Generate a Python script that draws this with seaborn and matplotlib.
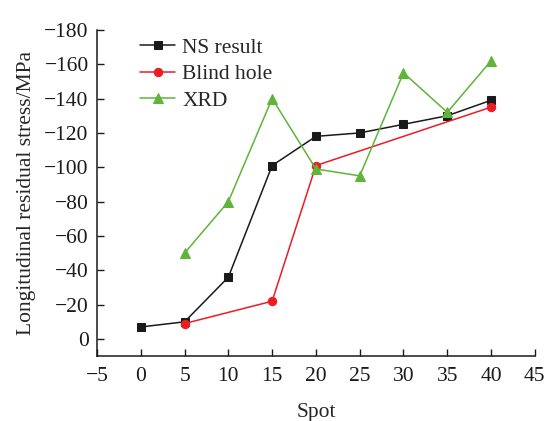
import matplotlib
matplotlib.use("Agg")
import matplotlib.pyplot as plt
import seaborn as sns
import pandas as pd

ns_x = [0, 5, 10, 15, 20, 25, 30, 35, 40]
ns_y = [-7, -10, -36, -101, -118, -120, -125, -130, -139]
bh_x = [5, 15, 20, 40]
bh_y = [-9, -22, -101, -135]
xrd_x = [5, 10, 15, 20, 25, 30, 35, 40]
xrd_y = [-50, -80, -140, -99, -95, -155, -132, -162]

sns.set_style("white")
plt.rcParams['font.family'] = ['Liberation Serif', 'DejaVu Serif']
plt.rcParams['axes.unicode_minus'] = True

fig = plt.figure(figsize=(5.48, 4.21), dpi=100)
ax = fig.add_axes([0.177, 0.154, 0.799, 0.775])

series = [
    ("NS result", ns_x, ns_y, "#1a1a1a", "s", 6),
    ("Blind hole", bh_x, bh_y, "#ec1c24", "o", 6),
    ("XRD", xrd_x, xrd_y, "#5fb43a", "^", 7.5),
]
for name, xs, ys, c, m, ms in series:
    df = pd.DataFrame({"Spot": xs, "Stress": ys})
    sns.lineplot(data=df, x="Spot", y="Stress", ax=ax, color=c, marker=m,
                 markersize=ms, markeredgecolor=c, linewidth=1.1, label=name,
                 sort=False)

fs = 15.5
ax.set_xlim(-5, 45)
ax.set_ylim(10, -180)
ax.set_xticks(range(-5, 46, 5))
ax.set_yticks(range(0, -181, -20))
ax.tick_params(direction="in", length=5, width=1, labelsize=fs, colors="#1a1a1a",
               left=True, bottom=True)
ax.tick_params(axis="x", pad=8)
ax.tick_params(axis="y", pad=6)
for s in ["top", "right"]:
    ax.spines[s].set_visible(False)
for s in ["left", "bottom"]:
    ax.spines[s].set_color("#1a1a1a")
    ax.spines[s].set_linewidth(1.1)
ax.set_xlabel("Spot", fontsize=fs, labelpad=12)
ax.set_ylabel("Longitudinal residual stress/MPa", fontsize=fs, labelpad=6)
ax.legend(loc="upper left", bbox_to_anchor=(0.055, 1.035), frameon=False,
          fontsize=fs, handlelength=1.6, handletextpad=0.35, labelspacing=0.3)
fig.savefig("out.png", dpi=100)
